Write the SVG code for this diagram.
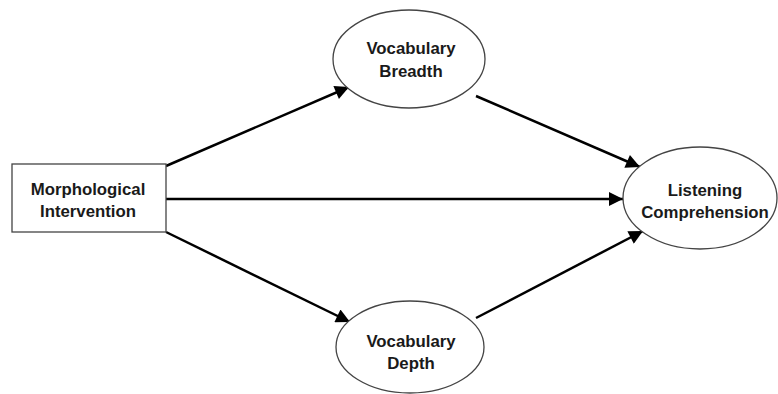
<svg xmlns="http://www.w3.org/2000/svg" width="778" height="394" viewBox="0 0 778 394">
<style>
.node{fill:#fff;stroke:#444;stroke-width:1.3}
.lbl{font-family:"Liberation Sans",Arial,sans-serif;font-weight:bold;font-size:16.8px;fill:#1a1a1a;text-anchor:middle}
.edge{stroke:#000;stroke-width:2.5;fill:none;marker-end:url(#ah)}
</style>
<defs>
<marker id="ah" viewBox="0 0 10 10" refX="10" refY="5" markerWidth="6.8" markerHeight="5.6" markerUnits="strokeWidth" orient="auto">
<path d="M0,0 L10,5 L0,10 z" fill="#000"/>
</marker>
</defs>
<rect width="778" height="394" fill="#fff"/>
<g id="connectors">
<line class="edge" x1="166" y1="166" x2="349" y2="87"/>
<line class="edge" x1="476" y1="96" x2="640" y2="167"/>
<line class="edge" x1="166" y1="199" x2="623" y2="199"/>
<line class="edge" x1="166" y1="232" x2="350" y2="322"/>
<line class="edge" x1="476" y1="318" x2="643" y2="231"/>
</g>
<g id="morphological">
<rect class="node" x="12" y="164" width="154" height="68"/>
<text class="lbl" x="88" y="195">Morphological</text>
<text class="lbl" x="88" y="217">Intervention</text>
</g>
<g id="breadth">
<ellipse class="node" cx="409" cy="59" rx="76" ry="49"/>
<text class="lbl" x="411" y="54">Vocabulary</text>
<text class="lbl" x="411" y="77">Breadth</text>
</g>
<g id="depth">
<ellipse class="node" cx="410" cy="347" rx="74" ry="46"/>
<text class="lbl" x="411" y="347">Vocabulary</text>
<text class="lbl" x="411" y="369">Depth</text>
</g>
<g id="listening">
<ellipse class="node" cx="700" cy="198" rx="77" ry="51"/>
<text class="lbl" x="705" y="196">Listening</text>
<text class="lbl" x="705" y="218">Comprehension</text>
</g>
</svg>
